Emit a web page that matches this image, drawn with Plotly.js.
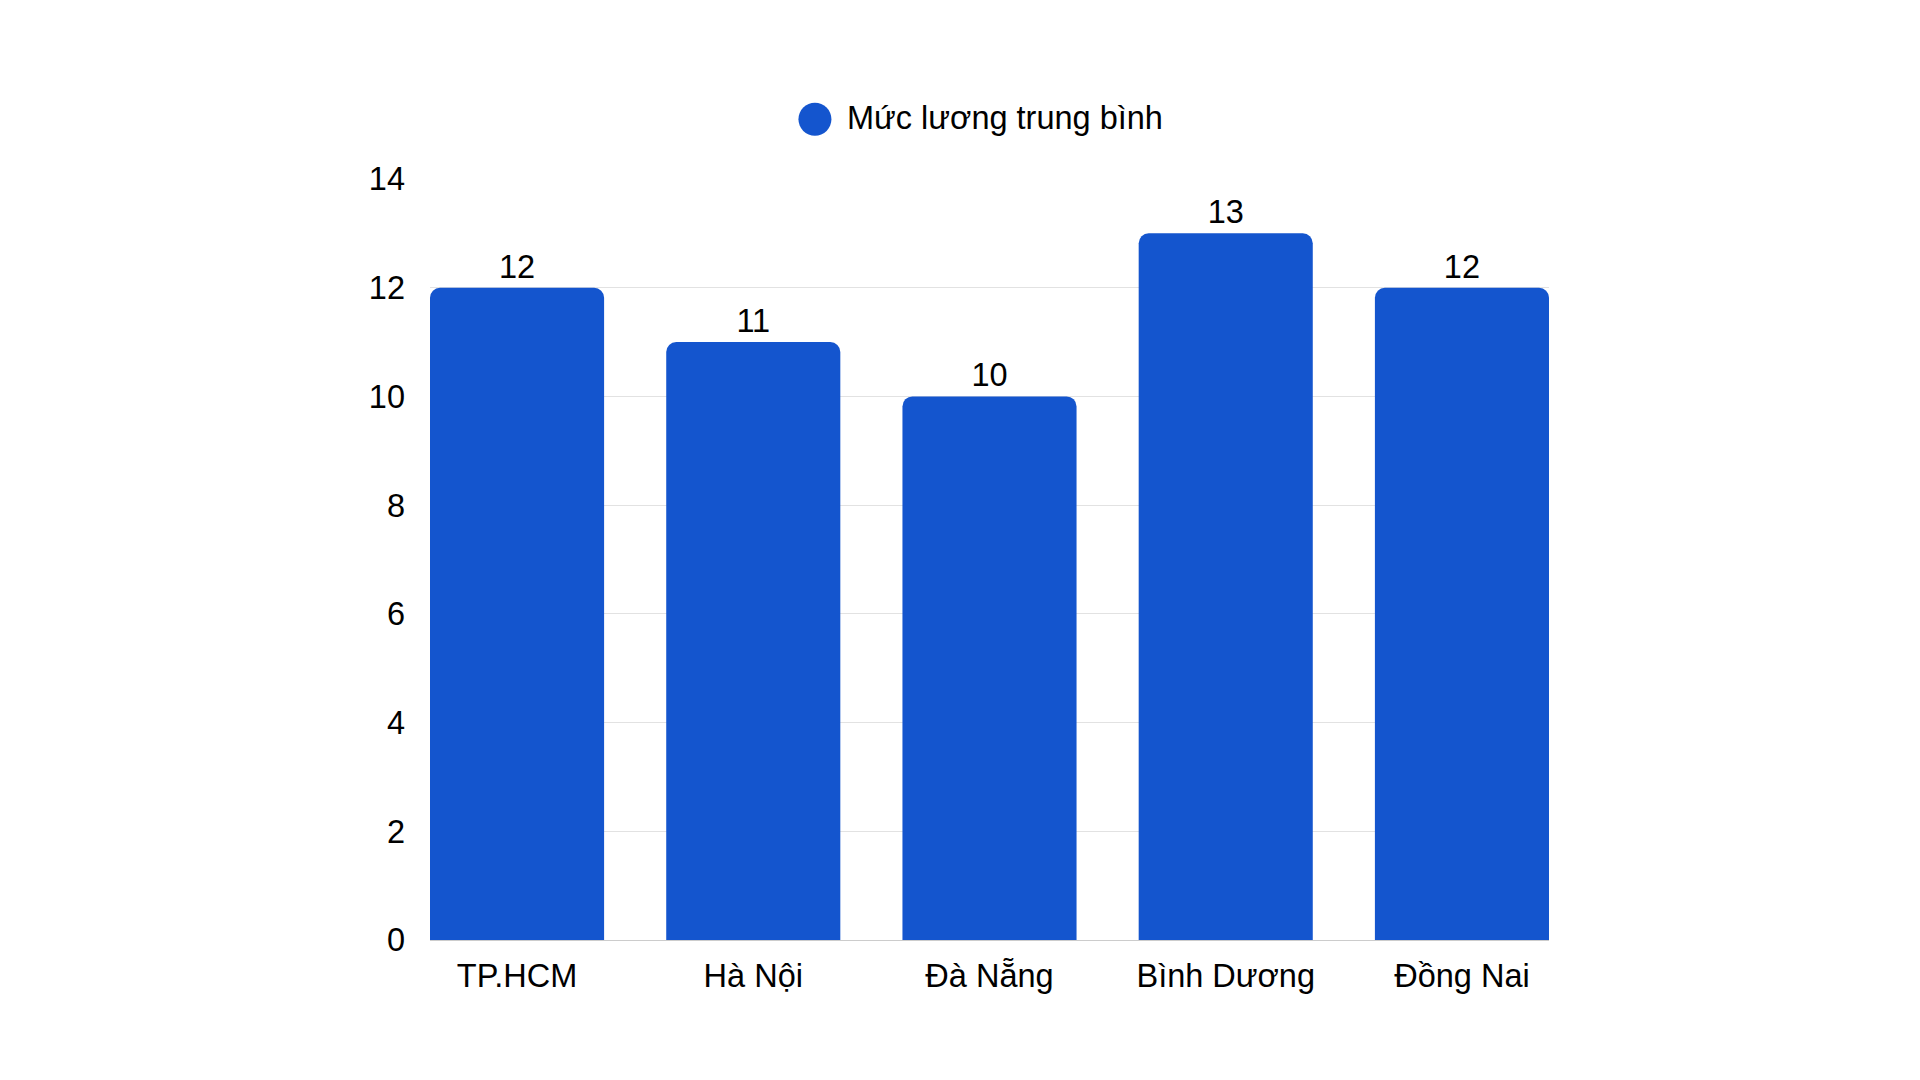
<!DOCTYPE html>
<html>
<head>
<meta charset="utf-8">
<script src="https://cdn.plot.ly/plotly-3.0.1.min.js"></script>
<style>
  html, body { margin: 0; padding: 0; background: #ffffff; }
  #chart { width: 1920px; height: 1080px; }
</style>
</head>
<body>
<div id="chart"></div>
<script>
const categories = ["TP.HCM", "Hà Nội", "Đà Nẵng", "Bình Dương", "Đồng Nai"];
const values = [12, 11, 10, 13, 12];
const seriesName = "Mức lương trung bình";
const yTicks = [0, 2, 4, 6, 8, 10, 12, 14];

const barColor = "#1455CE";
const fontFamily = "'Liberation Sans', Arial, sans-serif";
const fontSize = 32.5;

const trace = {
  type: "bar",
  x: categories,
  y: values,
  name: seriesName,
  marker: { color: barColor, cornerradius: 10 },
  text: values.map(String),
  textposition: "outside",
  cliponaxis: false,
  textfont: { family: fontFamily, size: fontSize, color: "#000000" },
  hoverinfo: "x+y",
  showlegend: false
};

const layout = {
  width: 1920,
  height: 1080,
  paper_bgcolor: "#ffffff",
  plot_bgcolor: "#ffffff",
  margin: { l: 430, r: 371, t: 179, b: 140, pad: 0 },
  bargap: 0.263,
  font: { family: fontFamily, size: fontSize, color: "#000000" },
  showlegend: false,
  xaxis: {
    type: "category",
    range: [-0.3685, 4.3685],
    showgrid: false,
    showline: true,
    linecolor: "#cccccc",
    linewidth: 1,
    ticks: "",
    ticklabelstandoff: 7,
    tickfont: { family: fontFamily, size: fontSize, color: "#000000" },
    fixedrange: true
  },
  yaxis: {
    range: [0, 14],
    tickmode: "array",
    tickvals: yTicks,
    ticktext: yTicks.map(String),
    showgrid: true,
    gridcolor: "#e2e2e2",
    gridwidth: 1,
    zeroline: false,
    showline: false,
    ticks: "",
    ticklabelstandoff: 24,
    tickfont: { family: fontFamily, size: fontSize, color: "#000000" },
    fixedrange: true
  },
  shapes: [{
    type: "circle",
    xref: "paper", yref: "paper",
    xsizemode: "pixel", ysizemode: "pixel",
    xanchor: 0.344, yanchor: 1.0785,
    x0: -16.5, x1: 16.5, y0: -16.5, y1: 16.5,
    fillcolor: barColor,
    line: { width: 0 }
  }],
  annotations: [{
    xref: "paper", yref: "paper",
    x: 0.3705, y: 1.0805,
    xanchor: "left", yanchor: "middle",
    text: seriesName,
    showarrow: false,
    font: { family: fontFamily, size: fontSize, color: "#000000" }
  }]
};

Plotly.newPlot("chart", [trace], layout, { displayModeBar: false, staticPlot: true });
</script>
</body>
</html>
